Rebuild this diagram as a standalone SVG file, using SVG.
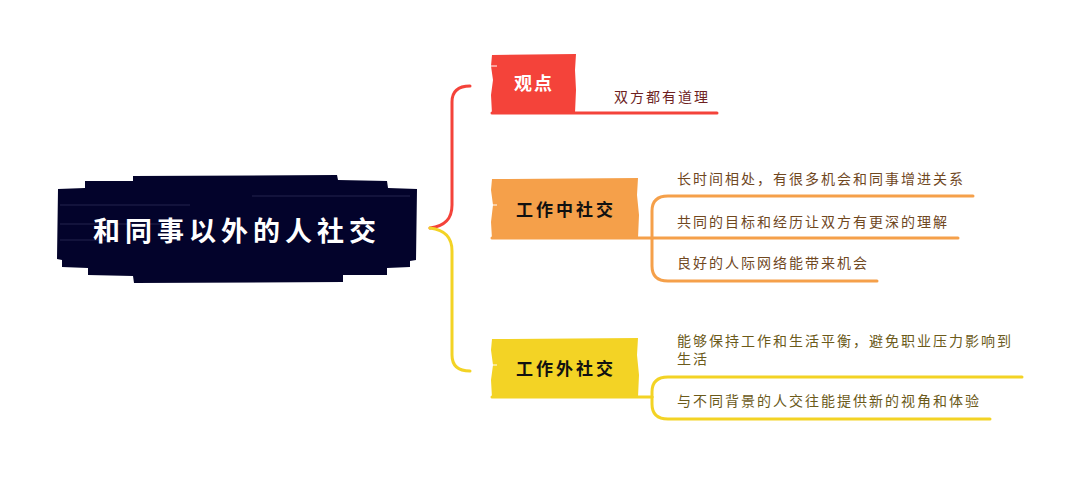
<svg xmlns="http://www.w3.org/2000/svg" width="1080" height="479" viewBox="0 0 1080 479">
<style>
.conn{fill:none;stroke-width:3;stroke-linecap:round;stroke-linejoin:round}
.red{stroke:#f4433a}
.org{stroke:#f5a04a}
.yel{stroke:#f3d325}
.main{font-family:"Noto Sans CJK SC","Noto Sans",sans-serif;font-weight:700;text-anchor:middle;dominant-baseline:central}
.sub{font-family:"Noto Sans CJK SC","Noto Sans",sans-serif;font-size:14px;letter-spacing:2px;dominant-baseline:central}
.streak{stroke:#3a3a66;stroke-width:1;opacity:0.6}
</style>
<rect width="1080" height="479" fill="#ffffff"/>
<g id="connectors">
<path class="conn red" d="M430,228 C446,226 452,218 452,205 L452,102 Q452,86 470,86"/>
<path class="conn yel" d="M430,228 C446,230 452,238 452,251 L452,355 Q452,371 470,371"/>
<path class="conn org" d="M652,238 L652,211 Q652,196 668,196 L973,196"/>
<path class="conn org" d="M652,238 L958,238"/>
<path class="conn org" d="M652,238 L652,266 Q652,281 668,281 L877,281"/>
<path class="conn yel" d="M652,397 L652,392 Q652,377 668,377 L1022,377"/>
<path class="conn yel" d="M652,397 L652,404 Q652,419 668,419 L990,419"/>
</g>
<g id="root">
<path fill="#03032b" d="M133,176 L337,175 L338,180 L387,181 L388,188 L417,189 L416,260 L410,261 L410,267 L387,268 L387,275 L343,275 L343,282 L134,283 L133,276 L88,275 L88,268 L62,267 L62,260 L57,259 L58,189 L85,188 L85,181 L133,181 Z"/>
<line class="streak" x1="252" y1="196" x2="410" y2="196"/>
<line class="streak" x1="60" y1="205" x2="190" y2="205"/>
<line class="streak" x1="60" y1="224" x2="160" y2="224"/>
<line class="streak" x1="60" y1="240" x2="110" y2="240"/>
<text class="main" x="237" y="229" font-size="27" letter-spacing="5" fill="#ffffff">和同事以外的人社交</text>
</g>
<g id="node-guandian">
<path fill="#f4433a" d="M492,55 L576,54 L575,70 L576,90 L575,113 L492,114 L491,95 L493,80 L491,66 Z"/>
<line x1="491" y1="66" x2="497" y2="66" stroke="#ffffff" stroke-width="1"/>
<path class="conn red" d="M492,113 L717,113"/>
<text class="main" x="534" y="82" font-size="18" letter-spacing="2" fill="#ffffff">观点</text>
<text class="sub" x="614" y="96" fill="#6e1f1f">双方都有道理</text>
</g>
<g id="node-work-in">
<path fill="#f5a04a" d="M492,179 L638,178 L637,195 L639,215 L638,238 L492,239 L491,222 L493,205 L491,190 Z"/>
<line x1="491" y1="205" x2="497" y2="205" stroke="#ffffff" stroke-width="1"/>
<path class="conn org" d="M492,238 L652,238"/>
<text class="main" x="566" y="208" font-size="17" letter-spacing="3" fill="#111111">工作中社交</text>
<text class="sub" x="677" y="178" fill="#70481f">长时间相处，有很多机会和同事增进关系</text>
<text class="sub" x="677" y="221" fill="#70481f">共同的目标和经历让双方有更深的理解</text>
<text class="sub" x="677" y="262" fill="#70481f">良好的人际网络能带来机会</text>
</g>
<g id="node-work-out">
<path fill="#f3d325" d="M492,339 L638,338 L637,355 L639,375 L638,397 L492,398 L491,380 L493,365 L491,350 Z"/>
<line x1="491" y1="365" x2="497" y2="365" stroke="#ffffff" stroke-width="1"/>
<path class="conn yel" d="M492,397 L652,397"/>
<text class="main" x="566" y="367" font-size="17" letter-spacing="3" fill="#111111">工作外社交</text>
<text class="sub" x="677" y="340" fill="#6b5a1a">能够保持工作和生活平衡，避免职业压力影响到</text>
<text class="sub" x="677" y="358" fill="#6b5a1a">生活</text>
<text class="sub" x="677" y="400" fill="#6b5a1a">与不同背景的人交往能提供新的视角和体验</text>
</g>
</svg>
